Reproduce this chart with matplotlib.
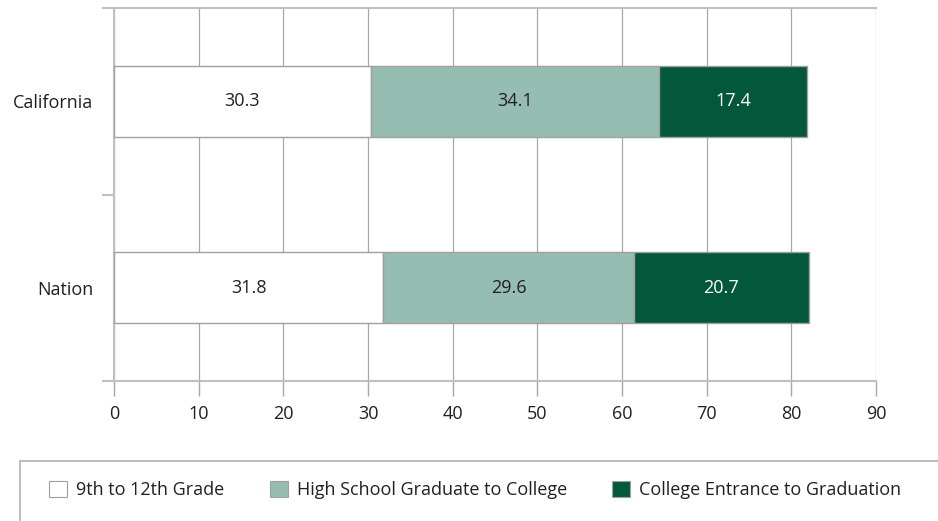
import numpy as np
import matplotlib.pyplot as plt
from matplotlib.patches import Patch, Rectangle

plt.rcParams['font.family'] = ['Open Sans', 'DejaVu Sans']

# ---------------- data ----------------
regions = ['Nation', 'California']
grade_9_12 = [31.8, 30.3]
hs_to_college = [29.6, 34.1]
entrance_to_grad = [20.7, 17.4]
series_names = ['9th to 12th Grade', 'High School Graduate to College',
                'College Entrance to Graduation']
colors = ['#FFFFFF', '#96BDB2', '#03573B']
text_colors = ['#231F20', '#231F20', '#FFFFFF']

# ---------------- figure ----------------
fig = plt.figure(figsize=(9.38, 5.21), dpi=100)
ax = fig.add_axes([114/938, 1 - 381/521, (876 - 114)/938, (381 - 8)/521])

ypos = np.arange(len(regions))
left = np.zeros(len(regions))
for vals, col, tcol in zip([grade_9_12, hs_to_college, entrance_to_grad], colors, text_colors):
    bars = ax.barh(ypos, vals, left=left, height=0.38, color=col,
                   edgecolor='#A0A0A0', linewidth=1, zorder=3)
    for b, v in zip(bars, vals):
        ax.text(b.get_x() + b.get_width()/2, b.get_y() + b.get_height()/2,
                f'{v:.1f}', ha='center', va='center', fontsize=13,
                color=tcol, zorder=4)
    left = left + np.array(vals)

ax.set_xlim(0, 90)
ax.set_ylim(-0.5, 1.5)
ax.set_xticks(np.arange(0, 91, 10))
ax.xaxis.grid(True, color='#A8A8A8', linewidth=0.9, zorder=0)

# category ticks at the boundaries, labels in the middle
ax.set_yticks([-0.5, 0.5, 1.5])
ax.set_yticklabels([])
ax.set_yticks(ypos, minor=True)
ax.set_yticklabels(regions, minor=True)
ax.tick_params(axis='y', which='minor', length=0, pad=15, labelsize=13, labelcolor='#231F20')
ax.tick_params(axis='y', which='major', length=9, width=1.5, color='#C0C0C0')
ax.tick_params(axis='x', length=11, width=1, color='#A8A8A8', pad=6,
               labelsize=13, labelcolor='#231F20')

for s in ['left', 'bottom', 'top']:
    ax.spines[s].set_color('#C0C0C0')
    ax.spines[s].set_linewidth(1.5)
ax.spines['right'].set_visible(False)

# legend frame (runs off the right and bottom edges)
fig.patches.append(Rectangle((20/938, -0.1), 1.0, (521 - 461)/521 + 0.1,
                             transform=fig.transFigure, facecolor='none',
                             edgecolor='#B0B0B0', linewidth=1.2))

handles = [Patch(facecolor=c, edgecolor='#A0A0A0', linewidth=0.8) for c in colors]
fig.legend(handles, series_names, loc='center left', ncol=3, frameon=False,
           bbox_to_anchor=(42/938, 1 - 490/521), borderaxespad=0,
           fontsize=13, handlelength=1.0, handleheight=1.0,
           handletextpad=0.5, columnspacing=2.5, labelcolor='#231F20')

fig.savefig('out.png', dpi=100)
